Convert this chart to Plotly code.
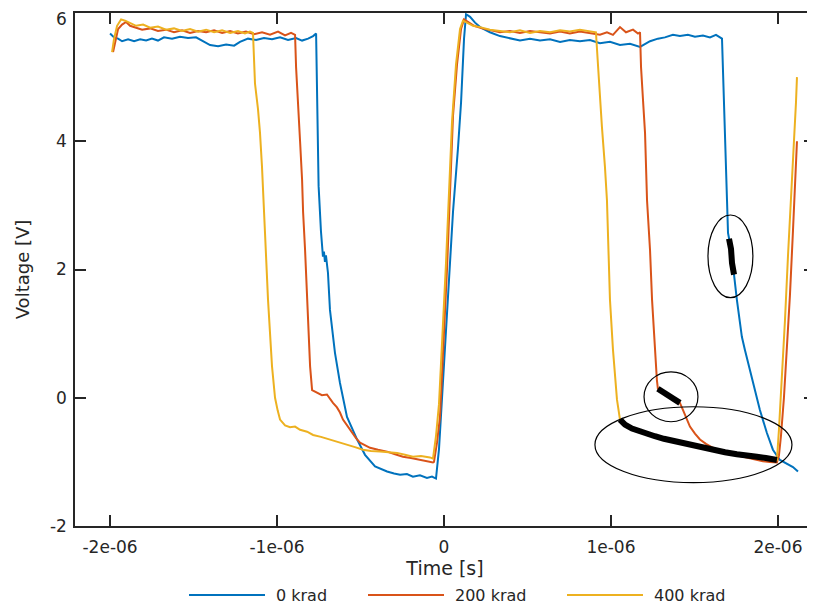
import plotly.graph_objects as go

# ---------------- data (time in microseconds, voltage in V) ----------------
t_0krad = [-2.000, -1.976, -1.952, -1.928, -1.892, -1.856, -1.820, -1.784, -1.749, -1.713,
           -1.677, -1.629, -1.581, -1.533, -1.485, -1.443, -1.401, -1.353, -1.305, -1.257,
           -1.222, -1.174, -1.126, -1.078, -1.030, -0.982, -0.934, -0.886, -0.850, -0.814,
           -0.784, -0.766, -0.760, -0.754, -0.751, -0.737, -0.731, -0.725, -0.719, -0.713,
           -0.707, -0.695, -0.683, -0.653, -0.623, -0.581, -0.521, -0.473, -0.413, -0.377,
           -0.341, -0.299, -0.263, -0.222, -0.186, -0.144, -0.102, -0.072, -0.048, -0.030,
           -0.006, 0.024, 0.054, 0.084, 0.102, 0.120, 0.132, 0.156, 0.186, 0.216,
           0.275, 0.335, 0.395, 0.455, 0.515, 0.575, 0.635, 0.695, 0.754, 0.814,
           0.874, 0.934, 0.994, 1.054, 1.114, 1.174, 1.234, 1.281, 1.323, 1.371,
           1.413, 1.461, 1.503, 1.551, 1.593, 1.629, 1.665, 1.671, 1.677, 1.683,
           1.695, 1.701, 1.707, 1.713, 1.719, 1.725, 1.731, 1.737, 1.754, 1.784,
           1.802, 1.850, 1.892, 1.934, 1.970, 2.012, 2.060, 2.090, 2.120]
v_0krad = [5.68, 5.62, 5.60, 5.56, 5.59, 5.56, 5.59, 5.57, 5.60, 5.57,
           5.62, 5.60, 5.63, 5.61, 5.62, 5.56, 5.50, 5.48, 5.51, 5.49,
           5.55, 5.60, 5.58, 5.61, 5.59, 5.62, 5.58, 5.61, 5.57, 5.60,
           5.64, 5.68, 4.64, 3.60, 3.30, 2.60, 2.35, 2.20, 2.28, 2.12,
           2.22, 1.95, 1.37, 0.70, 0.23, -0.30, -0.65, -0.89, -1.07, -1.11,
           -1.15, -1.18, -1.20, -1.19, -1.23, -1.21, -1.25, -1.23, -1.26, -0.80,
           0.30, 1.60, 2.90, 3.90, 4.60, 5.60, 5.98, 5.94, 5.85, 5.78,
           5.70, 5.64, 5.60, 5.57, 5.60, 5.57, 5.59, 5.55, 5.58, 5.56,
           5.58, 5.53, 5.55, 5.50, 5.52, 5.47, 5.56, 5.60, 5.62, 5.66,
           5.64, 5.66, 5.63, 5.65, 5.62, 5.66, 5.60, 5.16, 4.69, 4.13,
           3.08, 2.57, 2.48, 2.40, 2.32, 2.10, 2.02, 1.92, 1.53, 0.95,
           0.75, 0.23, -0.19, -0.55, -0.81, -0.97, -1.04, -1.08, -1.15]

t_200krad = [-1.982, -1.970, -1.952, -1.928, -1.904, -1.880, -1.850, -1.808, -1.760, -1.713,
             -1.665, -1.617, -1.569, -1.521, -1.473, -1.425, -1.377, -1.329, -1.281, -1.234,
             -1.186, -1.138, -1.090, -1.042, -0.994, -0.952, -0.916, -0.892, -0.886, -0.874,
             -0.862, -0.850, -0.844, -0.832, -0.820, -0.802, -0.790, -0.760, -0.731, -0.701,
             -0.683, -0.665, -0.641, -0.623, -0.605, -0.575, -0.551, -0.527, -0.503, -0.473,
             -0.443, -0.395, -0.341, -0.293, -0.246, -0.198, -0.144, -0.102, -0.066, -0.060,
             -0.042, -0.024, 0.000, 0.018, 0.036, 0.054, 0.078, 0.102, 0.120, 0.144,
             0.180, 0.228, 0.275, 0.335, 0.395, 0.455, 0.515, 0.575, 0.635, 0.695,
             0.754, 0.814, 0.874, 0.934, 0.976, 1.012, 1.054, 1.090, 1.132, 1.162,
             1.174, 1.180, 1.192, 1.204, 1.216, 1.234, 1.246, 1.263, 1.275, 1.281,
             1.305, 1.329, 1.353, 1.383, 1.413, 1.431, 1.449, 1.473, 1.503, 1.533,
             1.569, 1.611, 1.659, 1.713, 1.760, 1.814, 1.862, 1.910, 1.952, 1.994,
             2.006, 2.018, 2.036, 2.054, 2.072, 2.090, 2.102, 2.114]
v_200krad = [5.39, 5.55, 5.75, 5.82, 5.86, 5.80, 5.78, 5.74, 5.76, 5.72,
             5.74, 5.70, 5.73, 5.69, 5.72, 5.70, 5.73, 5.69, 5.72, 5.68,
             5.71, 5.67, 5.70, 5.66, 5.71, 5.65, 5.69, 5.66, 5.16, 4.64,
             4.00, 3.40, 2.90, 2.30, 1.53, 0.49, 0.12, 0.08, 0.04, 0.05,
             -0.02, -0.08, -0.15, -0.23, -0.34, -0.45, -0.55, -0.63, -0.70, -0.74,
             -0.78, -0.81, -0.84, -0.88, -0.92, -0.94, -0.97, -0.99, -1.01, -1.00,
             -0.70, -0.30, 1.00, 2.00, 3.20, 4.40, 5.20, 5.75, 5.90, 5.86,
             5.80, 5.76, 5.73, 5.70, 5.72, 5.69, 5.72, 5.70, 5.68, 5.71,
             5.68, 5.71, 5.69, 5.66, 5.70, 5.66, 5.78, 5.70, 5.74, 5.68,
             5.70, 5.16, 4.64, 4.13, 3.08, 2.30, 1.53, 0.75, 0.28, 0.14,
             0.10, 0.06, 0.03, -0.02, -0.08, -0.19, -0.30, -0.45, -0.56, -0.65,
             -0.72, -0.78, -0.83, -0.86, -0.90, -0.93, -0.96, -0.99, -1.00, -1.01,
             -0.90, -0.60, 0.00, 0.80, 1.60, 2.60, 3.40, 4.00]

t_400krad = [-1.988, -1.976, -1.958, -1.934, -1.910, -1.880, -1.844, -1.802, -1.760, -1.713,
             -1.665, -1.617, -1.569, -1.521, -1.473, -1.425, -1.377, -1.329, -1.281, -1.234,
             -1.192, -1.162, -1.144, -1.132, -1.114, -1.102, -1.090, -1.072, -1.054, -1.030,
             -1.012, -0.996, -0.982, -0.952, -0.922, -0.892, -0.862, -0.820, -0.784, -0.737,
             -0.683, -0.635, -0.581, -0.533, -0.485, -0.437, -0.383, -0.335, -0.281, -0.234,
             -0.186, -0.138, -0.084, -0.066, -0.048, -0.030, -0.006, 0.012, 0.030, 0.048,
             0.072, 0.096, 0.114, 0.138, 0.174, 0.216, 0.275, 0.335, 0.395, 0.455,
             0.515, 0.575, 0.635, 0.695, 0.754, 0.814, 0.874, 0.910, 0.922, 0.928,
             0.946, 0.964, 0.976, 0.994, 1.012, 1.036, 1.054, 1.084, 1.126, 1.174,
             1.216, 1.263, 1.317, 1.365, 1.413, 1.473, 1.533, 1.611, 1.683, 1.754,
             1.814, 1.874, 1.928, 1.970, 1.994, 2.006, 2.024, 2.042, 2.060, 2.078,
             2.096, 2.108, 2.114]
v_400krad = [5.39, 5.60, 5.80, 5.90, 5.88, 5.84, 5.80, 5.82, 5.77, 5.79,
             5.74, 5.76, 5.72, 5.75, 5.71, 5.74, 5.70, 5.73, 5.69, 5.72,
             5.68, 5.71, 5.69, 4.90, 4.50, 4.13, 3.60, 2.57, 1.53, 0.49,
             0.00, -0.20, -0.34, -0.43, -0.46, -0.45, -0.50, -0.53, -0.58, -0.61,
             -0.65, -0.69, -0.73, -0.77, -0.81, -0.83, -0.84, -0.85, -0.86, -0.89,
             -0.92, -0.91, -0.93, -0.95, -0.60, -0.10, 1.10, 2.10, 3.20, 4.30,
             5.20, 5.75, 5.88, 5.85, 5.80, 5.78, 5.74, 5.72, 5.70, 5.73,
             5.69, 5.72, 5.70, 5.73, 5.71, 5.74, 5.72, 5.70, 5.20, 4.90,
             4.22, 3.60, 3.08, 1.53, 0.75, -0.03, -0.34, -0.42, -0.48, -0.53,
             -0.55, -0.60, -0.64, -0.67, -0.70, -0.73, -0.76, -0.81, -0.85, -0.88,
             -0.89, -0.92, -0.94, -0.95, -0.97, -0.50, 0.30, 1.20, 2.20, 3.20,
             4.00, 4.60, 5.00]

series_names = ["0 krad", "200 krad", "400 krad"]
series_colors = ["#0072BD", "#D95319", "#EDB120"]
series_t = [t_0krad, t_200krad, t_400krad]
series_v = [v_0krad, v_200krad, v_400krad]

# highlighted (black) parts: series index, start time, end time (us)
highlight_series = [0, 1, 2]
highlight_start = [1.704, 1.281, 1.054]
highlight_end = [1.738, 1.413, 1.994]

# marked regions (ellipses): time range (us) and voltage range
ellipse_t0 = [1.581, 1.198, 0.904]
ellipse_t1 = [1.850, 1.521, 2.084]
ellipse_v0 = [1.56, -0.374, -1.324]
ellipse_v1 = [2.85, 0.405, -0.14]

x_tick_vals = [-2e-6, -1e-6, 0, 1e-6, 2e-6]
x_tick_text = ["-2e-06", "-1e-06", "0", "1e-06", "2e-06"]
y_tick_vals = [-2, 0, 2, 4, 6]
y_tick_text = ["-2", "0", "2", "4", "6"]

US = 1e-6
FONT = "DejaVu Sans"
TXT = "#262626"
AX = "#262626"

fig = go.Figure()
for name, t, v, c in zip(series_names, series_t, series_v, series_colors):
    fig.add_trace(go.Scatter(x=[ti * US for ti in t], y=v, mode="lines", name=name,
                             line=dict(color=c, width=2), showlegend=False))

for si, a, b in zip(highlight_series, highlight_start, highlight_end):
    t = series_t[si]
    v = series_v[si]
    xs = [ti * US for ti in t if a <= ti <= b]
    ys = [vi for ti, vi in zip(t, v) if a <= ti <= b]
    fig.add_trace(go.Scatter(x=xs, y=ys, mode="lines", line=dict(color="black", width=6),
                             showlegend=False, hoverinfo="skip"))

for a, b, c, d in zip(ellipse_t0, ellipse_t1, ellipse_v0, ellipse_v1):
    fig.add_shape(type="circle", xref="x", yref="y", x0=a * US, x1=b * US, y0=c, y1=d,
                  line=dict(color="black", width=1.2))

# figure is drawn inside the page body (8 px default margin), so work in figure pixels
FIG_W, FIG_H = 807, 596
L, R, T, B = 67, 807, 5, 518
W, H = R - L, B - T


def px(xp):
    return (xp - L) / W


def py(yp):
    return (B - yp) / H


# the top tick label would stick out of the page, so it is drawn as an
# annotation tucked just inside the top edge
axis_tick_text = y_tick_text[:-1] + [""]
fig.add_annotation(xref="paper", yref="paper", x=0, y=1, text=y_tick_text[-1],
                   showarrow=False, xanchor="right", yanchor="top",
                   xshift=-7, yshift=T, borderpad=0,
                   font=dict(family=FONT, size=17, color=TXT))

# custom legend (long line samples)
leg_line_x0 = [181, 360, 559]
leg_y = 587
for name, c, x0 in zip(series_names, series_colors, leg_line_x0):
    fig.add_shape(type="line", xref="paper", yref="paper", x0=px(x0), x1=px(x0 + 76),
                  y0=py(leg_y), y1=py(leg_y), line=dict(color=c, width=2))
    fig.add_annotation(xref="paper", yref="paper", x=px(x0 + 85), y=py(leg_y),
                       text=name, showarrow=False, xanchor="left", yanchor="middle",
                       font=dict(family=FONT, size=16, color=TXT))

axis_common = dict(showline=True, linecolor=AX, linewidth=1.5, mirror="ticks",
                   ticks="inside", ticklen=11, tickwidth=1.5, tickcolor=AX,
                   showgrid=False, zeroline=False,
                   tickfont=dict(family=FONT, size=17, color=TXT))

fig.update_layout(
    width=FIG_W, height=FIG_H,
    margin=dict(l=L, r=FIG_W - R, t=T, b=FIG_H - B, autoexpand=False),
    paper_bgcolor="white", plot_bgcolor="white",
    font=dict(family=FONT, color=TXT),
    xaxis=dict(range=[-2.21e-6, 2.222e-6], tickvals=x_tick_vals, ticktext=x_tick_text,
               title=dict(text="Time [s]", font=dict(family=FONT, size=19, color=TXT), standoff=4),
               ticklabelstandoff=5, **axis_common),
    yaxis=dict(range=[-2, 6], tickvals=y_tick_vals, ticktext=axis_tick_text,
               title=dict(text="Voltage [V]", font=dict(family=FONT, size=18, color=TXT), standoff=16),
               ticklabelstandoff=3, **axis_common),
)

fig.write_html("out.html")
